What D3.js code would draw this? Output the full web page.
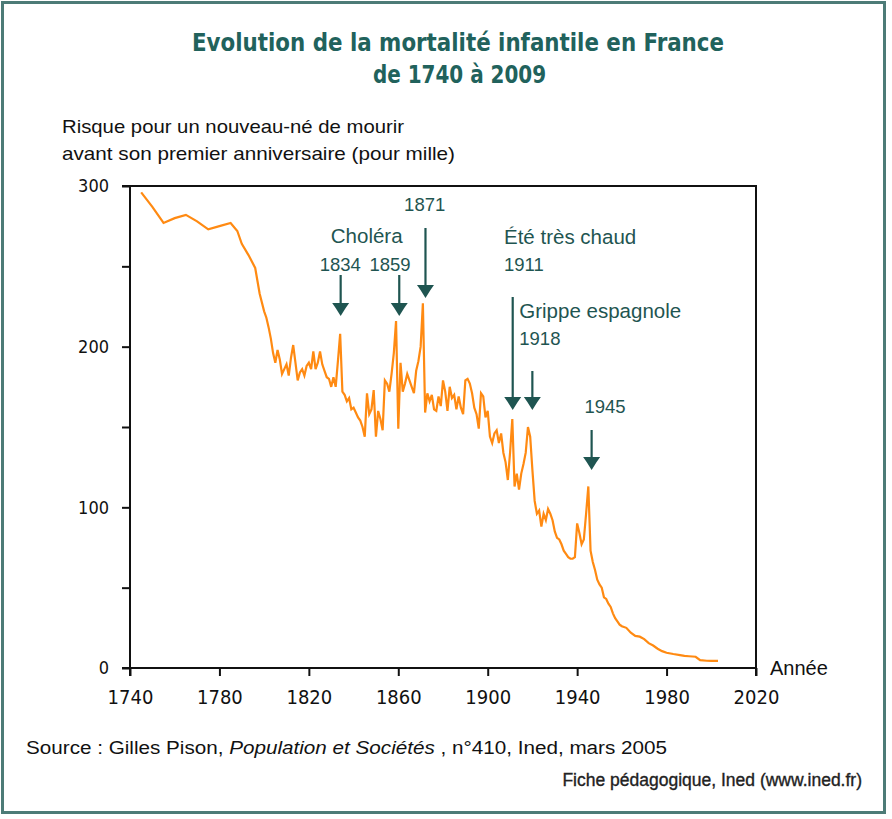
<!DOCTYPE html>
<html><head><meta charset="utf-8">
<script src="https://cdn.jsdelivr.net/npm/d3@7/dist/d3.min.js"></script>
<style>
body{margin:0;background:#fff}
svg{display:block}
</style>
</head><body>
<svg id="chart" width="892" height="819"></svg>
<script>
// ---------- DATA ----------
const years = [1745,1750,1755,1760,1765,1770,1775,1780,1785,1788,1790,1793,1796,1798,1800,
  1801,1802,1803,1804,1805,1806,1807,1808,1809,1810,1811,1812,1813,1814,1815,1816,1817,1818,1819,
  1820,1821,1822,1823,1824,1825,1826,1827,1828,1829,1830,1831,1832,1833,1834,1835,1836,1837,1838,1839,
  1840,1841,1842,1843,1844,1845,1846,1847,1848,1849,1850,1851,1852,1853,1854,1855,1856,1857,1858,1859,
  1860,1861,1862,1863,1864,1865,1866,1867,1868,1869,1870,1871,1872,1873,1874,1875,1876,1877,1878,1879,
  1880,1881,1882,1883,1884,1885,1886,1887,1888,1889,1890,1891,1892,1893,1894,1895,1896,1897,1898,1899,
  1900,1901,1902,1903,1904,1905,1906,1907,1908,1909,1910,1911,1912,1913,1914,1915,1916,1917,1918,1919,
  1920,1921,1922,1923,1924,1925,1926,1927,1928,1929,1930,1931,1932,1933,1934,1935,1936,1937,1938,1939,
  1940,1941,1942,1943,1944,1945,1946,1947,1948,1949,1950,1951,1952,1953,1954,1955,1956,1957,1958,1959,
  1960,1962,1964,1966,1968,1970,1972,1974,1976,1978,1980,1983,1986,1988,1990,1993,1995,1998,2000,2003];
const rates = [296,287,277,280,282,278,273,275,277,272,264,257,249,233,222,
  218,212,205,196,190,198,192,183,186,189,182,193,201,190,179,184,186,182,188,
  190,186,197,186,190,197,189,185,181,180,175,181,175,191,208,172,170,166,168,161,
  162,159,156,154,150,144,171,158,161,173,144,160,155,148,179,177,172,183,196,216,
  149,190,172,177,183,179,175,171,185,191,200,227,159,171,166,170,161,160,169,163,
  179,172,160,175,168,170,161,169,162,158,179,180,177,171,162,158,149,171,169,156,
  160,144,140,146,148,140,146,134,128,117,134,155,113,121,111,121,127,134,150,144,
  123,104,96,98,88,96,92,99,96,92,85,81,80,77,73,71,69,68,68,69,
  90,84,77,80,96,113,73,66,61,55,52,50,44,43,40,38,34,31,29,27,
  26,25,22,20,19.5,18,15.5,14,12,10.5,9.5,8.7,8,7.5,7.3,7,4.9,4.5,4.4,4.4];
const xTicks = [1740,1780,1820,1860,1900,1940,1980,2020];
const yTicks = [0,50,100,150,200,250,300];
const yLabelled = [0,100,200,300];

const titleLines = ["Evolution de la mortalité infantile en France", "de 1740 à 2009"];
const yTitleLines = ["Risque pour un nouveau-né de mourir", "avant son premier anniversaire (pour mille)"];
const xTitle = "Année";

// event arrows: year of event
const arrowYears = [1834, 1859, 1871, 1911, 1918, 1945];
// annotation text lines
const noteTexts = ["Choléra", "1834", "1859", "1871", "Été très chaud", "1911", "Grippe espagnole", "1918", "1945"];

// ---------- LAYOUT ----------
const svg = d3.select("#chart");
const M = {left:130, right:756, top:186, bottom:668};
const x = d3.scaleLinear().domain([1740, 2020]).range([M.left, M.right]);
const y = d3.scaleLinear().domain([0, 300]).range([M.bottom, M.top]);

const teal = "#1f5551";
const narrow = "'Liberation Sans Narrow','Arial Narrow','DejaVu Sans Condensed',sans-serif";
const sans = "'Liberation Sans',Arial,sans-serif";

// outer frame
svg.append("rect").attr("x",2.5).attr("y",2.5).attr("width",882).attr("height",810)
  .attr("fill","#fff").attr("stroke","#4d7b77").attr("stroke-width",3);

// title
const titleGeom = [{cx:458, by:51, w:532}, {cx:459.5, by:83, w:173}];
titleLines.forEach((t,i)=>{
  svg.append("text").text(t)
    .attr("x", titleGeom[i].cx).attr("y", titleGeom[i].by)
    .attr("text-anchor","middle")
    .attr("textLength", titleGeom[i].w).attr("lengthAdjust","spacingAndGlyphs")
    .style("font-family", narrow).style("font-weight","bold").style("font-size","25px")
    .style("fill","#21625c");
});

// y title
const yTitleGeom = [{x:62, by:133, w:342}, {x:62, by:160, w:393}];
yTitleLines.forEach((t,i)=>{
  svg.append("text").text(t)
    .attr("x", yTitleGeom[i].x).attr("y", yTitleGeom[i].by)
    .attr("textLength", yTitleGeom[i].w).attr("lengthAdjust","spacingAndGlyphs")
    .style("font-family", sans).style("font-size","19px").style("fill","#111");
});

// plot frame (top & right)
svg.append("path")
  .attr("d", `M${M.left},${M.top}H${M.right}V${M.bottom}`)
  .attr("fill","none").attr("stroke","#111").attr("stroke-width",2);

// axes
const yAxis = d3.axisLeft(y).tickValues(yTicks).tickSize(8).tickPadding(13)
  .tickFormat(d => yLabelled.includes(d) ? d : "");
const gy = svg.append("g").attr("transform",`translate(${M.left},0)`).call(yAxis);
const xAxis = d3.axisBottom(x).tickValues(xTicks).tickSize(8).tickPadding(14).tickFormat(d3.format("d"));
const gx = svg.append("g").attr("transform",`translate(0,${M.bottom})`).call(xAxis);
[gx, gy].forEach(g=>{
  g.select(".domain").attr("stroke","#111").attr("stroke-width",2);
  g.selectAll(".tick line").attr("stroke","#111").attr("stroke-width",2);
});
gy.select(".domain").attr("d", `M-8,${M.bottom}H0V${M.top}H-8`);
gx.select(".domain").attr("d", `M${M.left},8V0H${M.right}V8`);
gy.selectAll(".tick text").style("font-family", narrow).style("font-size","18px").style("fill","#111");
gx.selectAll(".tick text").style("font-family", narrow).style("font-size","20px").style("fill","#111");

svg.append("text").text(xTitle).attr("x",770).attr("y",675)
  .style("font-family", sans).style("font-size","20px").style("fill","#111");

// data line
const pts = years.map((yr,i)=>[yr, rates[i]]);
svg.append("path").datum(pts)
  .attr("fill","none").attr("stroke","#ff8a12").attr("stroke-width",2.2)
  .attr("stroke-linejoin","miter")
  .attr("d", d3.line().x(d=>x(d[0])).y(d=>y(d[1])));

// arrows
const arrowGeom = [
  {dx:0.5, y1:275, y2:316},
  {dx:3.2, y1:275, y2:316},
  {dx:2.6, y1:228, y2:298},
  {dx:0.4, y1:297, y2:410},
  {dx:4.4, y1:371, y2:410},
  {dx:3.3, y1:430, y2:470}
];
arrowYears.forEach((yr,i)=>{
  const g = arrowGeom[i];
  const ax = x(yr) + g.dx;
  svg.append("line").attr("x1",ax).attr("x2",ax).attr("y1",g.y1).attr("y2",g.y2-10)
    .attr("stroke",teal).attr("stroke-width",2.2);
  svg.append("path")
    .attr("d", `M${ax-8.5},${g.y2-13}L${ax+8.5},${g.y2-13}L${ax+5},${g.y2-8}L${ax},${g.y2}L${ax-5},${g.y2-8}Z`)
    .attr("fill",teal);
});

// annotation texts
const noteGeom = [
  {x:366.7, y:243.3, a:"middle", s:20.5},
  {x:340.3, y:270.7, a:"middle", s:18.5},
  {x:390,   y:270.7, a:"middle", s:18.5},
  {x:424.7, y:210.7, a:"middle", s:18.5},
  {x:504,   y:244,   a:"start",  s:20.5},
  {x:504,   y:270.7, a:"start",  s:18.5},
  {x:519.3, y:318.3, a:"start",  s:20.5},
  {x:519.3, y:345,   a:"start",  s:18.5},
  {x:605,   y:413.3, a:"middle", s:18.5}
];
noteTexts.forEach((t,i)=>{
  const g = noteGeom[i];
  svg.append("text").text(t).attr("x",g.x).attr("y",g.y).attr("text-anchor",g.a)
    .style("font-family", sans).style("font-size", g.s+"px").style("fill", teal);
});

// footer
const src = svg.append("text").attr("x",26).attr("y",754)
  .attr("textLength",641).attr("lengthAdjust","spacingAndGlyphs")
  .style("font-family", sans).style("font-size","18px").style("fill","#111");
src.append("tspan").text("Source : Gilles Pison, ");
src.append("tspan").text("Population et Sociétés").style("font-style","italic");
src.append("tspan").text(" , n°410, Ined, mars 2005");

svg.append("text").text("Fiche pédagogique, Ined (www.ined.fr)")
  .attr("x",862).attr("y",786).attr("text-anchor","end")
  .style("font-family", sans).style("font-size","17.5px")
  .style("fill","#222").style("stroke","#222").style("stroke-width",0.35);
</script>
</body></html>
